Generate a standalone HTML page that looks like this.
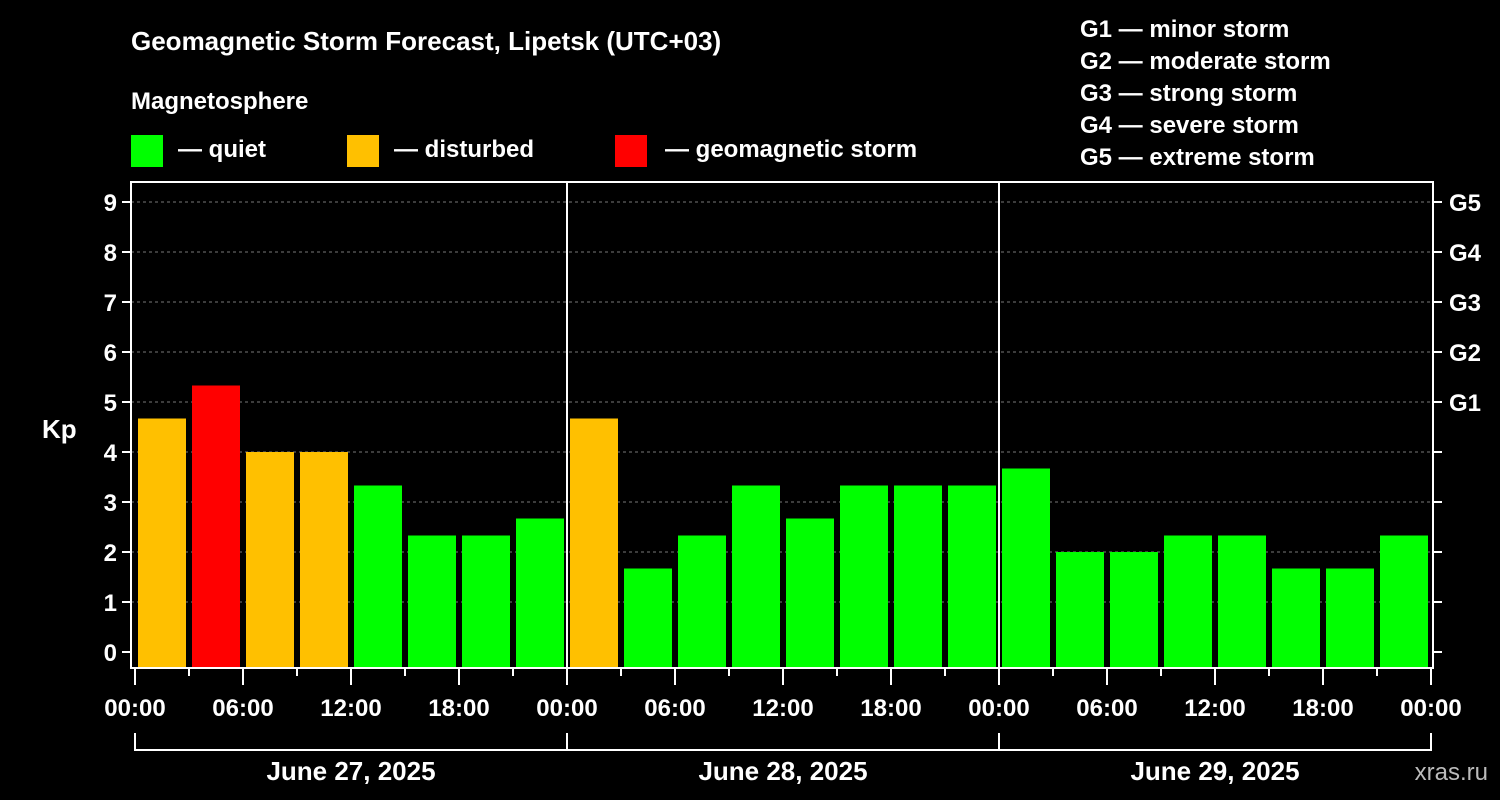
<!DOCTYPE html>
<html><head><meta charset="utf-8"><style>
html,body{margin:0;padding:0;background:#000;}
svg{display:block;font-family:"Liberation Sans",Arial,sans-serif;font-weight:bold;}
</style></head><body>
<svg id="chart" width="1500" height="800" viewBox="0 0 1500 800">
<rect width="1500" height="800" fill="#000"/>
<text x="131" y="50" fill="#fff" font-size="26">Geomagnetic Storm Forecast, Lipetsk (UTC+03)</text>
<text x="131" y="109" fill="#fff" font-size="24">Magnetosphere</text>
<g><rect x="131" y="135" width="32" height="32" fill="#00ff00"/><text x="178" y="157" fill="#fff" font-size="24">— quiet</text></g>
<g><rect x="347" y="135" width="32" height="32" fill="#ffc000"/><text x="394" y="157" fill="#fff" font-size="24">— disturbed</text></g>
<g><rect x="615" y="135" width="32" height="32" fill="#ff0000"/><text x="665" y="157" fill="#fff" font-size="24">— geomagnetic storm</text></g>
<g fill="#fff" font-size="24">
<text x="1080" y="37">G1 — minor storm</text>
<text x="1080" y="69">G2 — moderate storm</text>
<text x="1080" y="101">G3 — strong storm</text>
<text x="1080" y="133">G4 — severe storm</text>
<text x="1080" y="165">G5 — extreme storm</text>
</g>
<g id="grid"></g>
<g id="bars"></g>
<g id="axes"></g>
<text x="42" y="438" fill="#fff" font-size="26">Kp</text>
<text x="1488" y="780" fill="#bbb" font-size="24" text-anchor="end" font-weight="normal">xras.ru</text>
</svg>
<script>
const kpValues = [4.67,5.33,4,4,3.33,2.33,2.33,2.67, 4.67,1.67,2.33,3.33,2.67,3.33,3.33,3.33, 3.67,2,2,2.33,2.33,1.67,1.67,2.33];
const dayLabels = ["June 27, 2025","June 28, 2025","June 29, 2025"];
const timeLabels = ["00:00","06:00","12:00","18:00"];
const yTicks = [0,1,2,3,4,5,6,7,8,9];
const gLabels = ["","","","","","G1","G2","G3","G4","G5"];

const NS="http://www.w3.org/2000/svg";
const X0=135, SLOT=54, TOP=182, BOT=668, LEFT=131, RIGHT=1433;
const yS=v=>652-50*v;
const xS=i=>X0+i*SLOT;
function mk(tag,attrs,parent){const e=document.createElementNS(NS,tag);for(const k in attrs)e.setAttribute(k,attrs[k]);parent.appendChild(e);return e;}
const grid=document.getElementById('grid'),bars=document.getElementById('bars'),axes=document.getElementById('axes');

yTicks.forEach((t,i)=>{
  if(t>0){const l=mk('line',{x1:LEFT,x2:RIGHT,y1:yS(t),y2:yS(t),stroke:'#777','stroke-dasharray':'3,3','stroke-width':1},grid);
  
  }
  const tl=mk('line',{x1:LEFT-9,x2:LEFT,y1:yS(t),y2:yS(t),stroke:'#fff','stroke-width':2},axes);
  
  
  const tr=mk('line',{x1:RIGHT,x2:RIGHT+9,y1:yS(t),y2:yS(t),stroke:'#fff','stroke-width':2},axes);
  
  
  const lb=mk('text',{x:LEFT-14,y:yS(t)+9,fill:'#fff','font-size':24,'text-anchor':'end'},axes);
  lb.textContent=t;
  
  
  if(gLabels[i]){const g=mk('text',{x:RIGHT+16,y:yS(t)+9,fill:'#fff','font-size':24},axes);
  g.textContent=gLabels[i];
  
  }
});

kpValues.forEach((v,i)=>{
  const c=v>=5?'#ff0000':(v>=4?'#ffc000':'#00ff00');
  const r=mk('rect',{x:xS(i)+3,y:yS(v),width:48,height:BOT-yS(v),fill:c},bars);
  
  
});

const frame=mk('rect',{x:LEFT,y:TOP,width:RIGHT-LEFT,height:BOT-TOP,fill:'none',stroke:'#fff','stroke-width':2},axes);



for(let i=0;i<=kpValues.length;i++){
  const major=i%2===0;
  const t=mk('line',{x1:xS(i),x2:xS(i),y1:BOT,y2:BOT+(major?17:8),stroke:'#fff','stroke-width':2},axes);
  
  
  if(major){const lb=mk('text',{x:xS(i),y:716,fill:'#fff','font-size':24,'text-anchor':'middle'},axes);
  lb.textContent=timeLabels[(i/2)%4];
  
  }
}
dayLabels.forEach((d,k)=>{
  const x0=xS(k*8), x1=xS(k*8+8);
  if(k>0){const s=mk('line',{x1:x0,x2:x0,y1:TOP,y2:BOT,stroke:'#fff','stroke-width':2},axes);
  
  }
  const b=mk('path',{d:`M${x0},733V750H${x1}`+(k===2?`V733`:''),fill:'none',stroke:'#fff','stroke-width':2},axes);
  
  
  const lb=mk('text',{x:(x0+x1)/2,y:780,fill:'#fff','font-size':26,'text-anchor':'middle'},axes);
  lb.textContent=d;
  
  
});
</script>
</body></html>
